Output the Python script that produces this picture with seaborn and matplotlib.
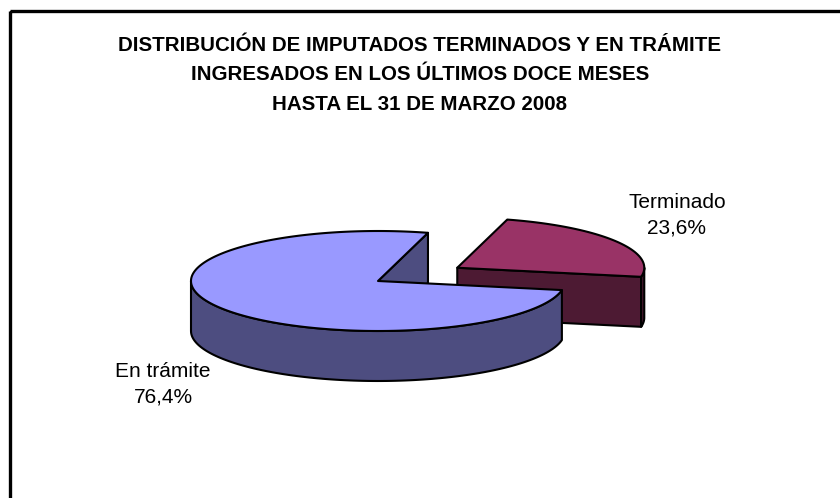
import numpy as np
import matplotlib
matplotlib.use("Agg")
import matplotlib.pyplot as plt
from matplotlib.patches import Polygon, Rectangle
import seaborn as sns

# ---- data ----
categories = ["Terminado", "En trámite"]
values = [23.6, 76.4]
top_colors = ["#993366", "#9999FF"]
side_colors = ["#4D1A33", "#4D4D80"]
explode = [0.5, 0.0]
title_lines = ["DISTRIBUCIÓN DE IMPUTADOS TERMINADOS Y EN TRÁMITE",
               "INGRESADOS EN LOS ÚLTIMOS DOCE MESES",
               "HASTA EL 31 DE MARZO 2008"]

sns.set_theme(style="white")
plt.rcParams["font.family"] = ["Liberation Sans", "DejaVu Sans"]

W, H = 840, 498
fig = plt.figure(figsize=(W / 100, H / 100), dpi=100)
ax = fig.add_axes([0, 0, 1, 1])
ax.set_xlim(0, W)
ax.set_ylim(H, 0)
ax.axis("off")

# frame (right/bottom edges cropped in reference)
ax.add_patch(Rectangle((9.5, 11), 900, 600, fill=False, ec="black", lw=2.4, zorder=1))

# pie geometry (pixel layout)
cx, cy = 378, 281
a, b = 187, 50
depth = 50
start_angle = 74.5
lw = 1.5

def pt(t, r, off):
    tr = np.deg2rad(t)
    return (cx + off[0] + a * r * np.cos(tr), cy + off[1] - b * r * np.sin(tr))

total = sum(values)
slices = []
t0 = start_angle
for v, tc, sc, ex in zip(values, top_colors, side_colors, explode):
    span = 360 * v / total
    t1 = t0 - span
    mid = np.deg2rad((t0 + t1) / 2)
    off = (ex * a * np.cos(mid), -ex * b * np.sin(mid))
    slices.append(dict(ts=t0, te=t1, off=off, tc=tc, sc=sc, v=v))
    t0 = t1

z = 2
for s in slices:
    ts, te, off = s["ts"], s["te"], s["off"]
    C = pt(0, 0, off)
    # cut faces
    for t, vis in ((ts, np.cos(np.deg2rad(ts)) < 0), (te, np.cos(np.deg2rad(te)) > 0)):
        if vis:
            P = pt(t, 1, off)
            poly = [C, P, (P[0], P[1] + depth), (C[0], C[1] + depth)]
            ax.add_patch(Polygon(poly, closed=True, fc=s["sc"], ec="black", lw=lw, zorder=z,
                                 joinstyle="round"))
    # outer side (front half: angles in [-180, 0] mod 360)
    for k in range(-2, 2):
        lo, hi = -180 + 360 * k, 0 + 360 * k
        a0, a1 = max(te, lo), min(ts, hi)
        if a1 > a0:
            tt = np.linspace(a0, a1, 120)
            top = [pt(t, 1, off) for t in tt]
            bot = [(x, y + depth) for x, y in top[::-1]]
            ax.add_patch(Polygon(top + bot, closed=True, fc=s["sc"], ec="black", lw=lw,
                                 zorder=z + 1, joinstyle="round"))
    # top
    tt = np.linspace(ts, te, 300)
    poly = [C] + [pt(t, 1, off) for t in tt]
    ax.add_patch(Polygon(poly, closed=True, fc=s["tc"], ec="black", lw=lw, zorder=z + 2,
                         joinstyle="round"))
    z += 3

# labels
label_pos = {"Terminado": (677, 215), "En trámite": (163, 384)}
for s, cat in zip(slices, categories):
    x, y = label_pos[cat]
    txt = f"{cat}\n{s['v']:.1f}%".replace(".", ",")
    ax.text(x, y, txt, ha="center", va="center", fontsize=15, linespacing=1.4,
            color="black", zorder=20)

# title
for i, line in enumerate(title_lines):
    ax.text(420, 45 + 29.5 * i, line, ha="center", va="center", fontsize=14.8,
            fontweight="bold", color="black", zorder=20)

fig.savefig("out.png", dpi=100, facecolor="white")
